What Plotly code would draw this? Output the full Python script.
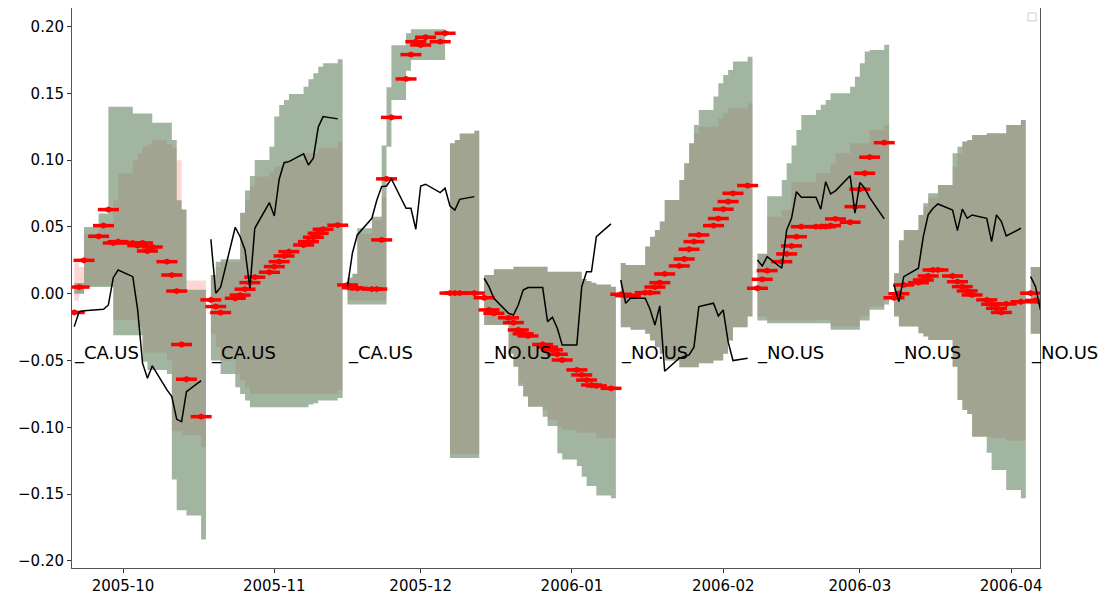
import pandas as pd
import plotly.graph_objects as go

# business-day offsets (calendar days) inside each forecast window
offsets = [0, 1, 2, 5, 6, 7, 8, 9, 12, 13, 14, 15, 16, 19, 20, 21, 22, 23, 26]

seg_starts = ["2005-09-21", "2005-10-19", "2005-11-16", "2005-12-14",
              "2006-01-11", "2006-02-08", "2006-03-08", "2006-04-05"]
seg_labels = ["_CA.US", "_CA.US", "_CA.US", "_NO.US",
              "_NO.US", "_NO.US", "_NO.US", "_NO.US"]

realized = [
    [-0.0246, -0.0134, -0.0128, -0.0118, -0.0116, -0.0084, 0.012, 0.0178, 0.0128, -0.0121,
     -0.052, -0.0633, -0.054, -0.072, -0.077, -0.094, -0.0957, -0.0733, -0.065],
    [0.0408, 0.0004, 0.0049, 0.0498, 0.0427, 0.0328, 0.0041, 0.049, 0.0682, 0.0582,
     0.0857, 0.0981, 0.0989, 0.1047, 0.0964, 0.1014, 0.1246, 0.1326, 0.1309],
    [0.0053, 0.0303, 0.044, 0.0565, 0.07, 0.0802, 0.0807, 0.086, 0.064, 0.064,
     0.0483, 0.0807, 0.082, 0.0757, 0.079, 0.0657, 0.0627, 0.0707, 0.0727],
    [0.0116, 0.0053, -0.0034, -0.0146, -0.0159, -0.0084, 0.0028, 0.0046, 0.0046, -0.0209,
     -0.0176, -0.0258, -0.0383, -0.0383, 0.0053, 0.0165, 0.0165, 0.0427, 0.0523],
    [0.0103, -0.0071, -0.0034, -0.0034, -0.0116, -0.0234, -0.0091, -0.058, -0.0483, -0.047,
     -0.0458, -0.04, -0.0096, -0.0071, -0.0166, -0.0121, -0.0358, -0.05, -0.0483],
    [0.0253, 0.0208, 0.0278, 0.0191, 0.0478, 0.0565, 0.0764, 0.0722, 0.0722, 0.0633,
     0.0839, 0.0747, 0.077, 0.0884, 0.0603, 0.0832, 0.079, 0.072, 0.056],
    [0.0066, -0.0059, 0.0128, 0.0191, 0.0427, 0.059, 0.064, 0.0672, 0.0627, 0.0472,
     0.0633, 0.0565, 0.059, 0.0565, 0.039, 0.059, 0.054, 0.0433, 0.049],
    [0.0128, 0.0053, -0.012],
]

predicted = [
    [-0.014, 0.005, 0.025, 0.043, 0.051, 0.063, 0.038, 0.039, 0.038, 0.036,
     0.038, 0.032, 0.035, 0.024, 0.014, 0.002, -0.038, -0.064, -0.092],
    [-0.0046, -0.0096, -0.0141, -0.0034, -0.001, 0.0034, 0.0083, 0.0124, 0.0161, 0.0203,
     0.024, 0.0283, 0.0315, 0.0365, 0.039, 0.0423, 0.0453, 0.0483, 0.0513],
    [0.0066, 0.0045, 0.004, 0.0035, 0.0035, 0.0403, 0.086, 0.132, 0.1608, 0.179,
     0.1887, 0.1862, 0.192, 0.1887, 0.195, 0.0005, 0.0005, 0.0005, 0.0005],
    [-0.003, -0.0121, -0.0146, -0.018, -0.0216, -0.0271, -0.03, -0.0316, -0.038, -0.04,
     -0.042, -0.0453, -0.0496, -0.057, -0.0608, -0.0646, -0.0683, -0.069, -0.0708],
    [-0.0004, -0.0014, -0.0014, 0.0008, 0.0008, 0.005, 0.0083, 0.0148, 0.0208, 0.026,
     0.0333, 0.039, 0.044, 0.051, 0.0563, 0.0633, 0.069, 0.0752, 0.081],
    [0.0041, 0.0108, 0.0173, 0.024, 0.0298, 0.0358, 0.0427, 0.0502, 0.0502, 0.0502,
     0.0502, 0.051, 0.056, 0.0535, 0.0652, 0.0782, 0.0902, 0.1022, 0.1131],
    [-0.003, 0.0, 0.0066, 0.0083, 0.0103, 0.0133, 0.0178, 0.0178, 0.0133, 0.009,
     0.0053, 0.0021, -0.0009, -0.0046, -0.0078, -0.0109, -0.014, -0.0076, -0.006],
    [0.0004, -0.005, -0.006],
]

# outer (green) band
outer_hi = [
    [0.008, 0.008, 0.05, 0.06, 0.06, 0.14, 0.14, 0.14, 0.135, 0.135,
     0.135, 0.135, 0.128, 0.128, 0.115, 0.07, 0.063, 0.003, 0.003],
    [0.0141, 0.024, 0.0258, 0.0258, 0.0607, 0.0772, 0.0882, 0.1002, 0.1101, 0.1326,
     0.1413, 0.145, 0.1496, 0.155, 0.1606, 0.1651, 0.17, 0.1726, 0.1756],
    [0.012, 0.015, 0.049, 0.0577, 0.0577, 0.111, 0.1546, 0.186, 0.195, 0.198,
     0.198, 0.198, 0.198, 0.198, None, 0.1127, 0.115, 0.12, 0.122],
    [0.014, 0.014, 0.0183, 0.0183, 0.0203, 0.0203, 0.0203, 0.0203, 0.0203, 0.0165,
     0.0165, 0.0165, 0.0165, 0.0165, 0.011, 0.0095, 0.0083, 0.007, 0.0053],
    [0.023, 0.0216, 0.0216, 0.0353, 0.0427, 0.0478, 0.054, 0.0702, 0.0852, 0.0977,
     0.1127, 0.1264, 0.1376, 0.1476, 0.1576, 0.1638, 0.1675, 0.1738, 0.1775],
    [0.03, 0.03, 0.073, 0.0852, 0.0977, 0.111, 0.1226, 0.1338, 0.1376, 0.1414,
     0.1451, 0.1501, 0.1501, 0.155, 0.1625, 0.1726, 0.1813, 0.1825, 0.1863],
    [0.0153, 0.04, 0.0478, 0.059, 0.0677, 0.0752, 0.0752, 0.0814, 0.1052, 0.1101,
     0.1139, 0.1151, 0.1189, 0.1202, 0.1202, 0.1202, 0.1202, 0.1264, 0.1301],
    [0.02, 0.02, 0.02],
]
outer_lo = [
    [0.0, 0.0, 0.005, 0.005, 0.005, 0.005, -0.031, -0.031, -0.031, -0.031,
     -0.051, -0.057, -0.057, -0.06, -0.139, -0.162, -0.162, -0.166, -0.184],
    [-0.05, -0.05, -0.06, -0.07, -0.075, -0.08, -0.085, -0.085, -0.085, -0.085,
     -0.085, -0.085, -0.085, -0.085, -0.083, -0.082, -0.08, -0.08, -0.078],
    [-0.008, -0.008, -0.008, -0.008, -0.008, -0.008, 0.11, 0.145, 0.167, 0.175,
     0.175, 0.175, 0.175, 0.175, None, -0.123, -0.123, -0.123, -0.123],
    [-0.0234, -0.0234, -0.0234, -0.045, -0.0546, -0.069, -0.077, -0.0845, -0.092, -0.099,
     -0.099, -0.1194, -0.124, -0.129, -0.137, -0.144, -0.144, -0.151, -0.153],
    [-0.025, -0.025, -0.027, -0.03, -0.035, -0.04, -0.045, -0.05, -0.055, -0.055,
     -0.055, -0.055, -0.052, -0.05, -0.05, -0.045, -0.035, -0.025, -0.017],
    [-0.02, -0.02, -0.022, -0.022, -0.022, -0.022, -0.022, -0.022, -0.022, -0.022,
     -0.022, -0.027, -0.027, -0.027, -0.027, -0.02, -0.02, -0.012, -0.008],
    [-0.017, -0.0246, -0.0246, -0.0296, -0.032, -0.0346, -0.0346, -0.0346, -0.0546, -0.0795,
     -0.087, -0.09, -0.107, -0.119, -0.132, -0.132, -0.132, -0.147, -0.153],
    [-0.03, -0.03, -0.03],
]

# inner (pink) band
inner_hi = [
    [0.023, 0.02, 0.045, 0.05, 0.05, 0.05, 0.07, 0.09, 0.1, 0.105,
     0.11, 0.112, 0.115, 0.112, 0.109, 0.1, 0.063, 0.01, 0.01],
    [0.0141, 0.02, 0.024, 0.024, 0.0603, 0.0702, 0.0802, 0.0877, 0.0914, 0.0952,
     0.0952, 0.1002, 0.1002, 0.1052, 0.1052, 0.1052, 0.1089, 0.1089, 0.1139],
    [0.012, 0.015, 0.045, 0.055, 0.055, 0.072, None, None, None, None,
     None, None, None, None, None, 0.1127, 0.115, 0.12, 0.122],
    [0.014, 0.014, 0.0183, 0.0183, 0.0203, 0.0203, 0.0203, 0.0203, 0.0203, 0.0165,
     0.0165, 0.0165, 0.0165, 0.0165, 0.011, 0.0095, 0.0083, 0.007, 0.0053],
    [0.023, 0.0216, 0.0216, 0.0353, 0.0427, 0.0478, 0.054, 0.0702, 0.0852, 0.0977,
     0.1127, 0.1202, 0.125, 0.125, 0.1314, 0.1351, 0.1389, 0.1389, 0.1426],
    [0.03, 0.03, 0.0577, 0.0627, 0.0627, 0.0839, 0.0839, 0.0839, 0.0902, 0.0902,
     0.0902, 0.0977, 0.1052, 0.1127, 0.1127, 0.1127, 0.1127, 0.1226, 0.1264],
    [0.0153, 0.04, 0.0478, 0.059, 0.065, 0.072, 0.072, 0.0814, 0.095, 0.105,
     0.1139, 0.1151, 0.1189, 0.1202, 0.1202, 0.1202, 0.1202, 0.1264, 0.1301],
    [0.02, 0.02, 0.02],
]
inner_lo = [
    [-0.005, 0.0, 0.006, 0.006, 0.006, 0.006, -0.0196, -0.0196, -0.02, -0.025,
     -0.044, -0.044, -0.044, -0.05, -0.103, -0.103, -0.106, -0.106, -0.115],
    [-0.03, -0.04, -0.05, -0.06, -0.065, -0.07, -0.075, -0.075, -0.075, -0.075,
     -0.075, -0.075, -0.075, -0.075, -0.075, -0.075, -0.075, -0.075, -0.072],
    [-0.005, -0.005, -0.005, -0.005, -0.005, -0.005, None, None, None, None,
     None, None, None, None, None, -0.12, -0.12, -0.12, -0.12],
    [-0.0234, -0.0234, -0.0234, -0.045, -0.0546, -0.067, -0.077, -0.0845, -0.087, -0.0945,
     -0.0945, -0.1, -0.102, -0.104, -0.104, -0.104, -0.104, -0.108, -0.108],
    [-0.025, -0.025, -0.027, -0.03, -0.035, -0.04, -0.045, -0.05, -0.055, -0.055,
     -0.055, -0.055, -0.052, -0.05, -0.05, -0.045, -0.035, -0.025, -0.017],
    [-0.017, -0.017, -0.02, -0.02, -0.02, -0.02, -0.02, -0.02, -0.0196, -0.0196,
     -0.0196, -0.0246, -0.0246, -0.0246, -0.0246, -0.017, -0.017, -0.0096, -0.005],
    [-0.017, -0.0246, -0.0246, -0.0296, -0.032, -0.0346, -0.0346, -0.0346, -0.0546, -0.0795,
     -0.087, -0.09, -0.107, -0.107, -0.108, -0.108, -0.108, -0.11, -0.11],
    [-0.03, -0.03, -0.03],
]

PINK = "rgba(255, 0, 0, 0.16)"
GREEN = "rgba(93, 128, 93, 0.58)"
FONT = "DejaVu Sans"


def runs(dates, lo, hi):
    """Split into contiguous pieces (None = gap), extending the last step by one day."""
    out, cur = [], []
    for d, a, b in zip(dates, lo, hi):
        if a is None or b is None:
            if cur:
                out.append(cur)
            cur = []
        else:
            cur.append((d, a, b))
    if cur:
        out.append(cur)
    pieces = []
    for r in out:
        xs = [p[0] for p in r] + [r[-1][0] + pd.Timedelta(days=1)]
        los = [p[1] for p in r] + [r[-1][1]]
        his = [p[2] for p in r] + [r[-1][2]]
        pieces.append((xs, los, his))
    return pieces


def add_band(fig, dates, lo, hi, color):
    for xs, los, his in runs(dates, lo, hi):
        fig.add_trace(go.Scatter(x=xs, y=los, mode="lines", line=dict(width=0, shape="hv"),
                                 hoverinfo="skip", showlegend=False))
        fig.add_trace(go.Scatter(x=xs, y=his, mode="lines", line=dict(width=0, shape="hv"),
                                 fill="tonexty", fillcolor=color,
                                 hoverinfo="skip", showlegend=False))


fig = go.Figure()

for i, start in enumerate(seg_starts):
    n = len(realized[i])
    dates = [pd.Timestamp(start) + pd.Timedelta(days=o) for o in offsets[:n]]
    add_band(fig, dates, inner_lo[i], inner_hi[i], PINK)
    add_band(fig, dates, outer_lo[i], outer_hi[i], GREEN)

for i, start in enumerate(seg_starts):
    n = len(realized[i])
    dates = [pd.Timestamp(start) + pd.Timedelta(days=o) for o in offsets[:n]]
    # red forecast marks: dash + lens on top -> elongated ellipse look
    fig.add_trace(go.Scatter(x=dates, y=predicted[i], mode="markers",
                             marker=dict(symbol="line-ew", size=15, color="red",
                                         line=dict(width=3.5, color="red")),
                             showlegend=False))
    fig.add_trace(go.Scatter(x=dates, y=predicted[i], mode="markers",
                             marker=dict(symbol="diamond-wide", size=9, color="red",
                                         line=dict(width=0)),
                             showlegend=False))
    fig.add_trace(go.Scatter(x=dates, y=realized[i], mode="lines",
                             line=dict(color="black", width=1.5),
                             showlegend=False))
    fig.add_annotation(x=dates[0], y=-0.05, text=seg_labels[i], showarrow=False,
                       xanchor="left", yanchor="bottom", yshift=-5, xshift=-2,
                       font=dict(family=FONT, size=18, color="black"))

axis_style = dict(showline=True, mirror=True, linecolor="#555", linewidth=1,
                  ticks="outside", ticklen=4, tickcolor="#333", showgrid=False,
                  zeroline=False, tickfont=dict(family=FONT, size=15, color="black"))

fig.update_xaxes(type="date", range=["2005-09-20 13:00", "2006-04-06 22:00"],
                 tick0="2005-10-01", dtick="M1", tickformat="%Y-%m", **axis_style)
fig.update_yaxes(range=[-0.2053, 0.2139], tickvals=[-0.2, -0.15, -0.1, -0.05, 0, 0.05, 0.1, 0.15, 0.2],
                 tickformat=".2f", **axis_style)

# empty legend box in the corner
fig.add_shape(type="rect", xref="paper", yref="paper", x0=0.9876, x1=0.9959, y0=0.977, y1=0.991,
              line=dict(color="#cccccc", width=1), fillcolor="white")

# the page body adds an 8px offset, so the figure is 8px smaller than the window
fig.update_layout(width=1099, height=591, plot_bgcolor="white", paper_bgcolor="white",
                  margin=dict(l=64, r=67, t=0, b=31), showlegend=False)

fig.write_html("out.html")
